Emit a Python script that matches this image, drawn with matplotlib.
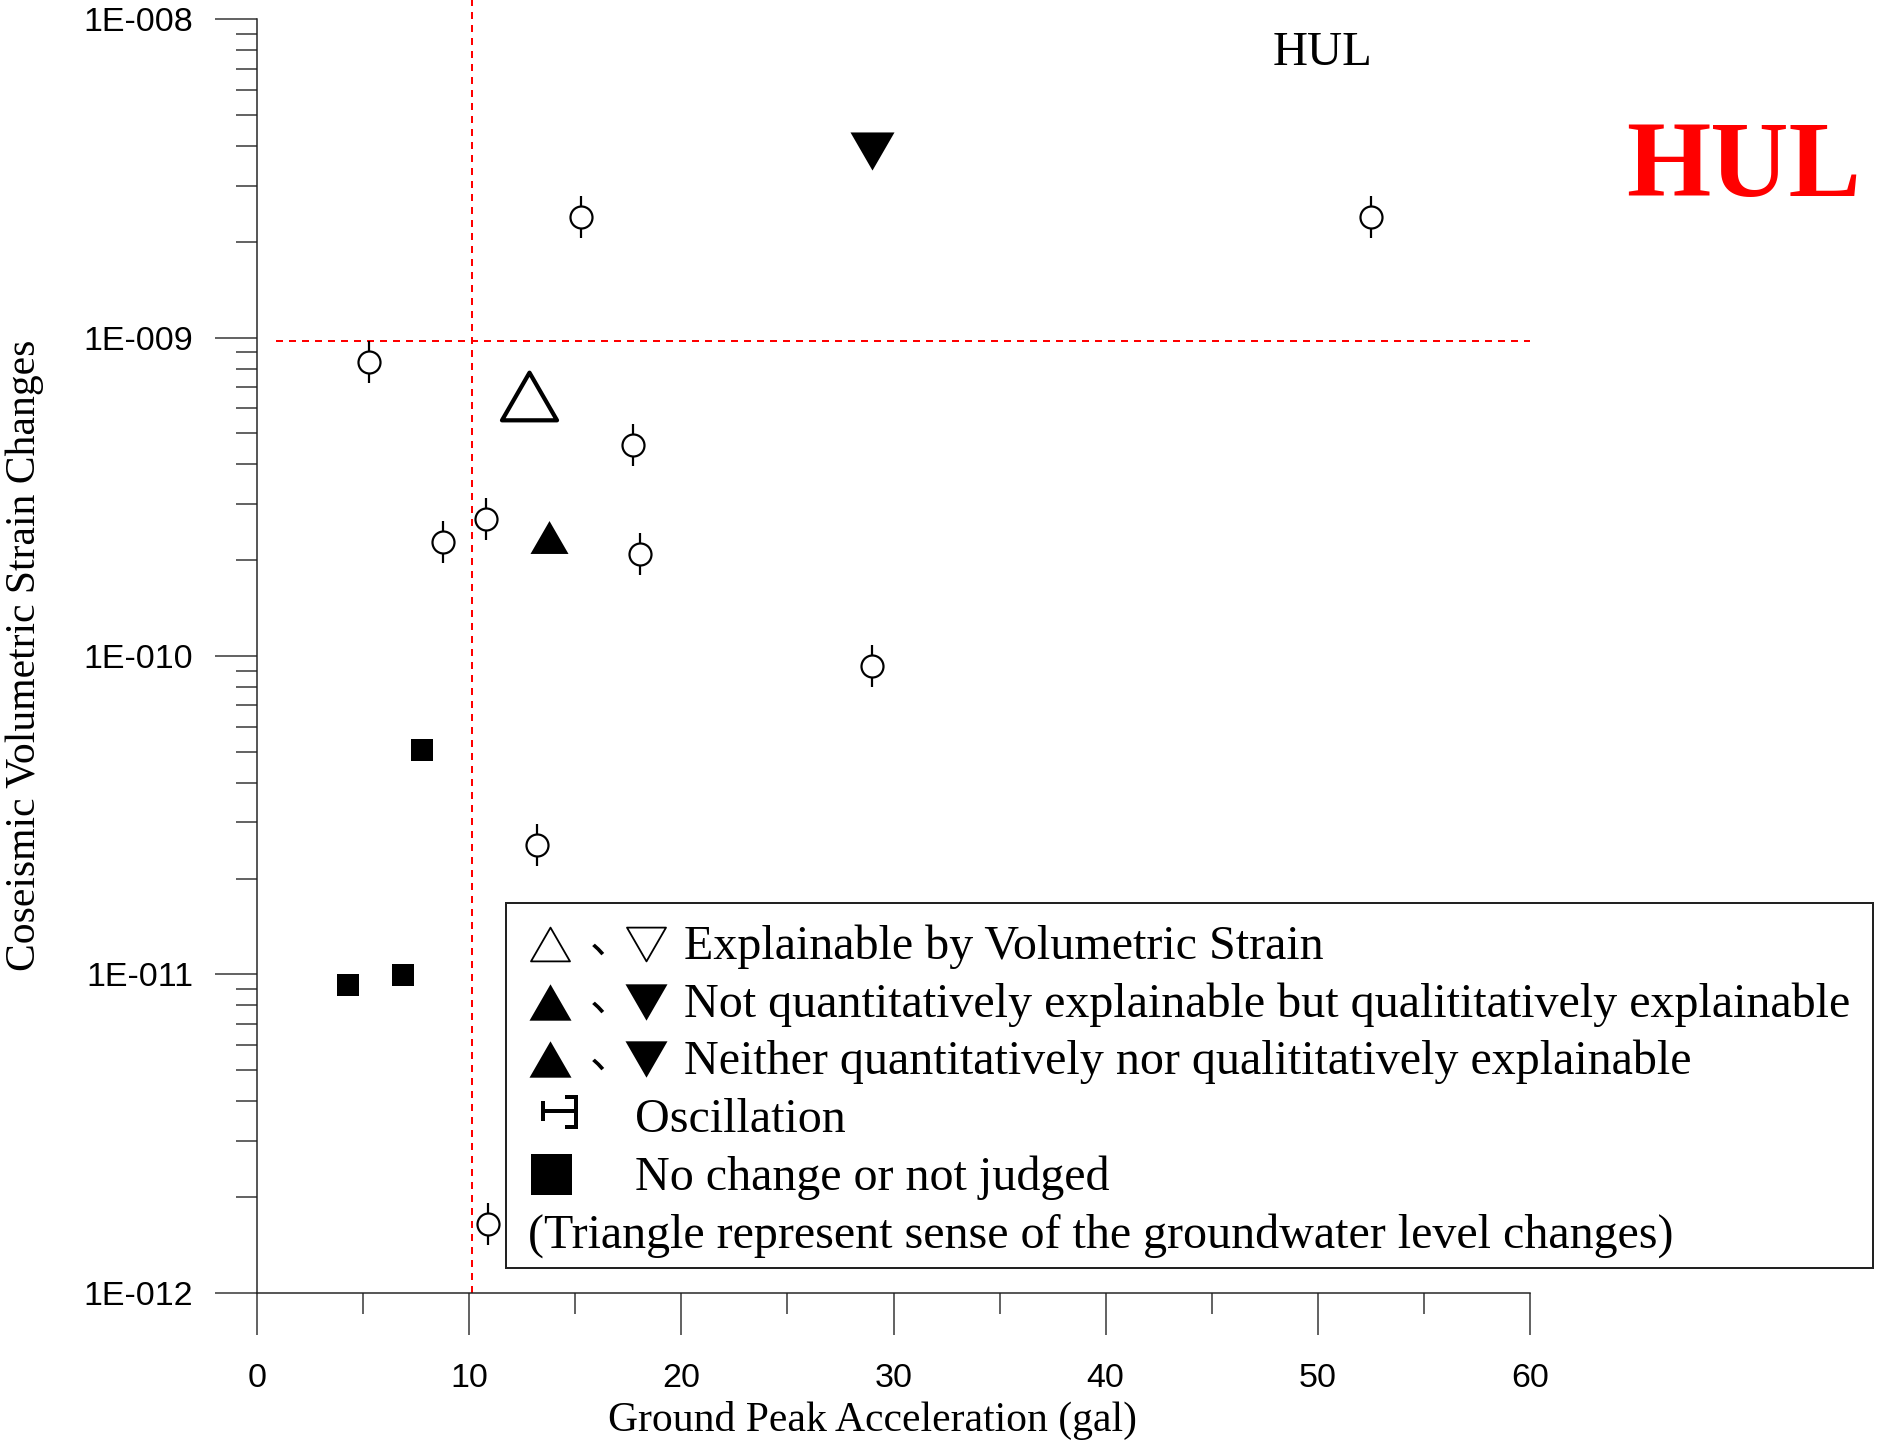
import matplotlib
matplotlib.use("Agg")
import matplotlib.pyplot as plt
from matplotlib.lines import Line2D
from matplotlib.patches import Rectangle
from matplotlib.path import Path
from matplotlib.ticker import FixedLocator, LogLocator, NullFormatter

# ---- data ----
# oscillation records (open circle with vertical bar)
osc_x = [5.28, 15.27, 52.5, 17.72, 10.80, 8.79, 18.07, 29.0, 13.22, 10.88]
osc_y = [8.37e-10, 2.39e-9, 2.39e-9, 4.6e-10, 2.69e-10, 2.28e-10, 2.09e-10, 9.27e-11, 2.55e-11, 1.64e-12]

# explainable by volumetric strain (open up triangle)
open_up_x = [12.82]
open_up_y = [6.56e-10]

# not quantitatively explainable (filled triangles)
fill_up_x = [13.77]
fill_up_y = [2.36e-10]
fill_down_x = [29.0]
fill_down_y = [3.85e-9]

# no change or not judged (filled squares)
sq_x = [7.79, 6.89, 4.28]
sq_y = [5.05e-11, 9.95e-12, 9.28e-12]

# threshold lines
pga_threshold = 10.15
strain_threshold = 9.75e-10

x_ticks = [0, 10, 20, 30, 40, 50, 60]
y_ticks = [1e-12, 1e-11, 1e-10, 1e-9, 1e-8]
y_tick_labels = ["1E-012", "1E-011", "1E-010", "1E-009", "1E-008"]

legend_rows = [
    "Explainable by Volumetric Strain",
    "Not quantitatively explainable but qualititatively explainable",
    "Neither quantitatively nor qualititatively explainable",
    "Oscillation",
    "No change or not judged",
    "(Triangle represent sense of the groundwater level changes)",
]

W, H = 1878, 1440
DPI = 100
PX = 72.0 / DPI  # points per pixel

SERIF = "Liberation Serif"
SANS = "Liberation Sans"


def P(x, y):
    """pixel position (from top-left) -> figure fraction"""
    return x / W, 1 - y / H


def tri_path(up=True):
    s = 1 if up else -1
    verts = [(0, 0.433 * s), (-0.5, -0.433 * s), (0.5, -0.433 * s), (0, 0.433 * s)]
    codes = [Path.MOVETO, Path.LINETO, Path.LINETO, Path.CLOSEPOLY]
    return Path(verts, codes)


TRI_UP = tri_path(True)
TRI_DOWN = tri_path(False)

fig = plt.figure(figsize=(W / DPI, H / DPI), dpi=DPI)
left, right = 257 / W, 1530 / W
top, bottom = 1 - 19.3 / H, 1 - 1292.7 / H
ax = fig.add_axes([left, bottom, right - left, top - bottom])

ax.set_xlim(0, 60)
ax.set_yscale("log")
ax.set_ylim(1e-12, 1e-8)

for s in ("top", "right"):
    ax.spines[s].set_visible(False)
for s in ("left", "bottom"):
    ax.spines[s].set_color("#222222")
    ax.spines[s].set_linewidth(1.5 * PX)

ax.xaxis.set_major_locator(FixedLocator(x_ticks))
ax.xaxis.set_minor_locator(FixedLocator([5, 15, 25, 35, 45, 55]))
ax.set_xticklabels([str(t) for t in x_ticks])
ax.yaxis.set_major_locator(FixedLocator(y_ticks))
ax.set_yticklabels(y_tick_labels)
ax.yaxis.set_minor_locator(LogLocator(base=10, subs=range(2, 10), numticks=20))
ax.yaxis.set_minor_formatter(NullFormatter())

ax.tick_params(which="major", direction="out", length=42 * PX, width=1.5 * PX,
               color="#333333", labelsize=24.5)
ax.tick_params(which="minor", direction="out", length=21 * PX, width=1.5 * PX,
               color="#333333")
ax.tick_params(axis="y", which="major", pad=22 * PX)
ax.tick_params(axis="x", which="major", pad=28 * PX)
for lab in ax.get_xticklabels() + ax.get_yticklabels():
    lab.set_fontfamily(SANS)

# threshold lines
dash = dict(color="#ff0000", lw=2 * PX, dashes=(3.5, 3.0))
top_ext = 10 ** (-8 + 19.3 / 318.35)
ax.plot([pga_threshold, pga_threshold], [1e-12, top_ext], clip_on=False, **dash)
ax.plot([0.9, 60], [strain_threshold, strain_threshold], **dash)

# oscillation markers: vertical bar + open circle
ax.plot(osc_x, osc_y, ls="none", marker="|", ms=42 * PX, mew=2.2 * PX, color="black", zorder=3)
ax.plot(osc_x, osc_y, ls="none", marker="o", ms=22 * PX, mew=2.2 * PX,
        mfc="white", mec="black", zorder=4)

# triangles
ax.plot(open_up_x, open_up_y, ls="none", marker=TRI_UP, ms=55 * PX, mew=4.2 * PX,
        mfc="white", mec="black", zorder=4)
ax.plot(fill_up_x, fill_up_y, ls="none", marker=TRI_UP, ms=38 * PX, mew=0,
        mfc="black", zorder=4)
ax.plot(fill_down_x, fill_down_y, ls="none", marker=TRI_DOWN, ms=44 * PX, mew=0,
        mfc="black", zorder=4)

# squares
ax.plot(sq_x, sq_y, ls="none", marker="s", ms=22 * PX, mew=0, mfc="black", zorder=4)

# axis titles
fig.text(*P(873, 1431), "Ground Peak Acceleration (gal)", family=SERIF, fontsize=30,
         ha="center", va="baseline")
fig.text(*P(25, 655), "Coseismic Volumetric Strain Changes", family=SERIF, fontsize=30,
         ha="center", va="center", rotation=90)

# station names
fig.text(*P(1323, 53), "HUL", family=SERIF, fontsize=35, ha="center", va="center")
fig.text(*P(1744, 170), "HUL", family=SERIF, fontsize=78, fontweight="bold",
         color="#ff0000", ha="center", va="center")

# ---- legend box ----
fig.add_artist(Rectangle(P(506, 1268), (1873 - 506) / W, (1268 - 903) / H,
                         transform=fig.transFigure, fill=False, ec="#222222", lw=2 * PX))

row_base = [959, 1017, 1074, 1132, 1190, 1248]
row_mid = [944, 1002, 1059, 1116, 1174, 1232]
LEG_FS = 34.6


def fig_marker(x, y, **kw):
    fx, fy = P(x, y)
    fig.add_artist(Line2D([fx], [fy], transform=fig.transFigure, ls="none", **kw))


# triangle pairs
for i in range(3):
    y = row_mid[i]
    if i == 0:
        fig_marker(550, y, marker=TRI_UP, ms=39 * PX, mew=1.8 * PX, mfc="white", mec="black")
        fig_marker(646, y, marker=TRI_DOWN, ms=39 * PX, mew=1.8 * PX, mfc="white", mec="black")
    else:
        fig_marker(550, y, marker=TRI_UP, ms=42 * PX, mew=0, mfc="black")
        fig_marker(646, y, marker=TRI_DOWN, ms=42 * PX, mew=0, mfc="black")
    fig.text(*P(590, row_base[i] - 6), "\u3001", family=["Noto Sans CJK JP", "DejaVu Sans"],
             fontsize=30, ha="left", va="baseline")
    fig.text(*P(684, row_base[i]), legend_rows[i], family=SERIF, fontsize=LEG_FS,
             ha="left", va="baseline")

# oscillation symbol
osc_sym = [
    ([543, 543], [1101, 1121]),
    ([543, 576], [1111, 1111]),
    ([565, 576, 576, 565], [1097, 1097, 1127, 1127]),
]
for xs, ys in osc_sym:
    fig.add_artist(Line2D([x / W for x in xs], [1 - y / H for y in ys],
                          transform=fig.transFigure, color="black", lw=4 * PX,
                          solid_joinstyle="miter", solid_capstyle="butt"))
fig.text(*P(635, row_base[3]), legend_rows[3], family=SERIF, fontsize=LEG_FS,
         ha="left", va="baseline")

# square symbol
fig_marker(550.5, 1173.5, marker="s", ms=41 * PX, mew=0, mfc="black")
fig.text(*P(635, row_base[4]), legend_rows[4], family=SERIF, fontsize=LEG_FS,
         ha="left", va="baseline")

fig.text(*P(528, row_base[5]), legend_rows[5], family=SERIF, fontsize=LEG_FS,
         ha="left", va="baseline")

fig.savefig("out.png", dpi=DPI, facecolor="white")
